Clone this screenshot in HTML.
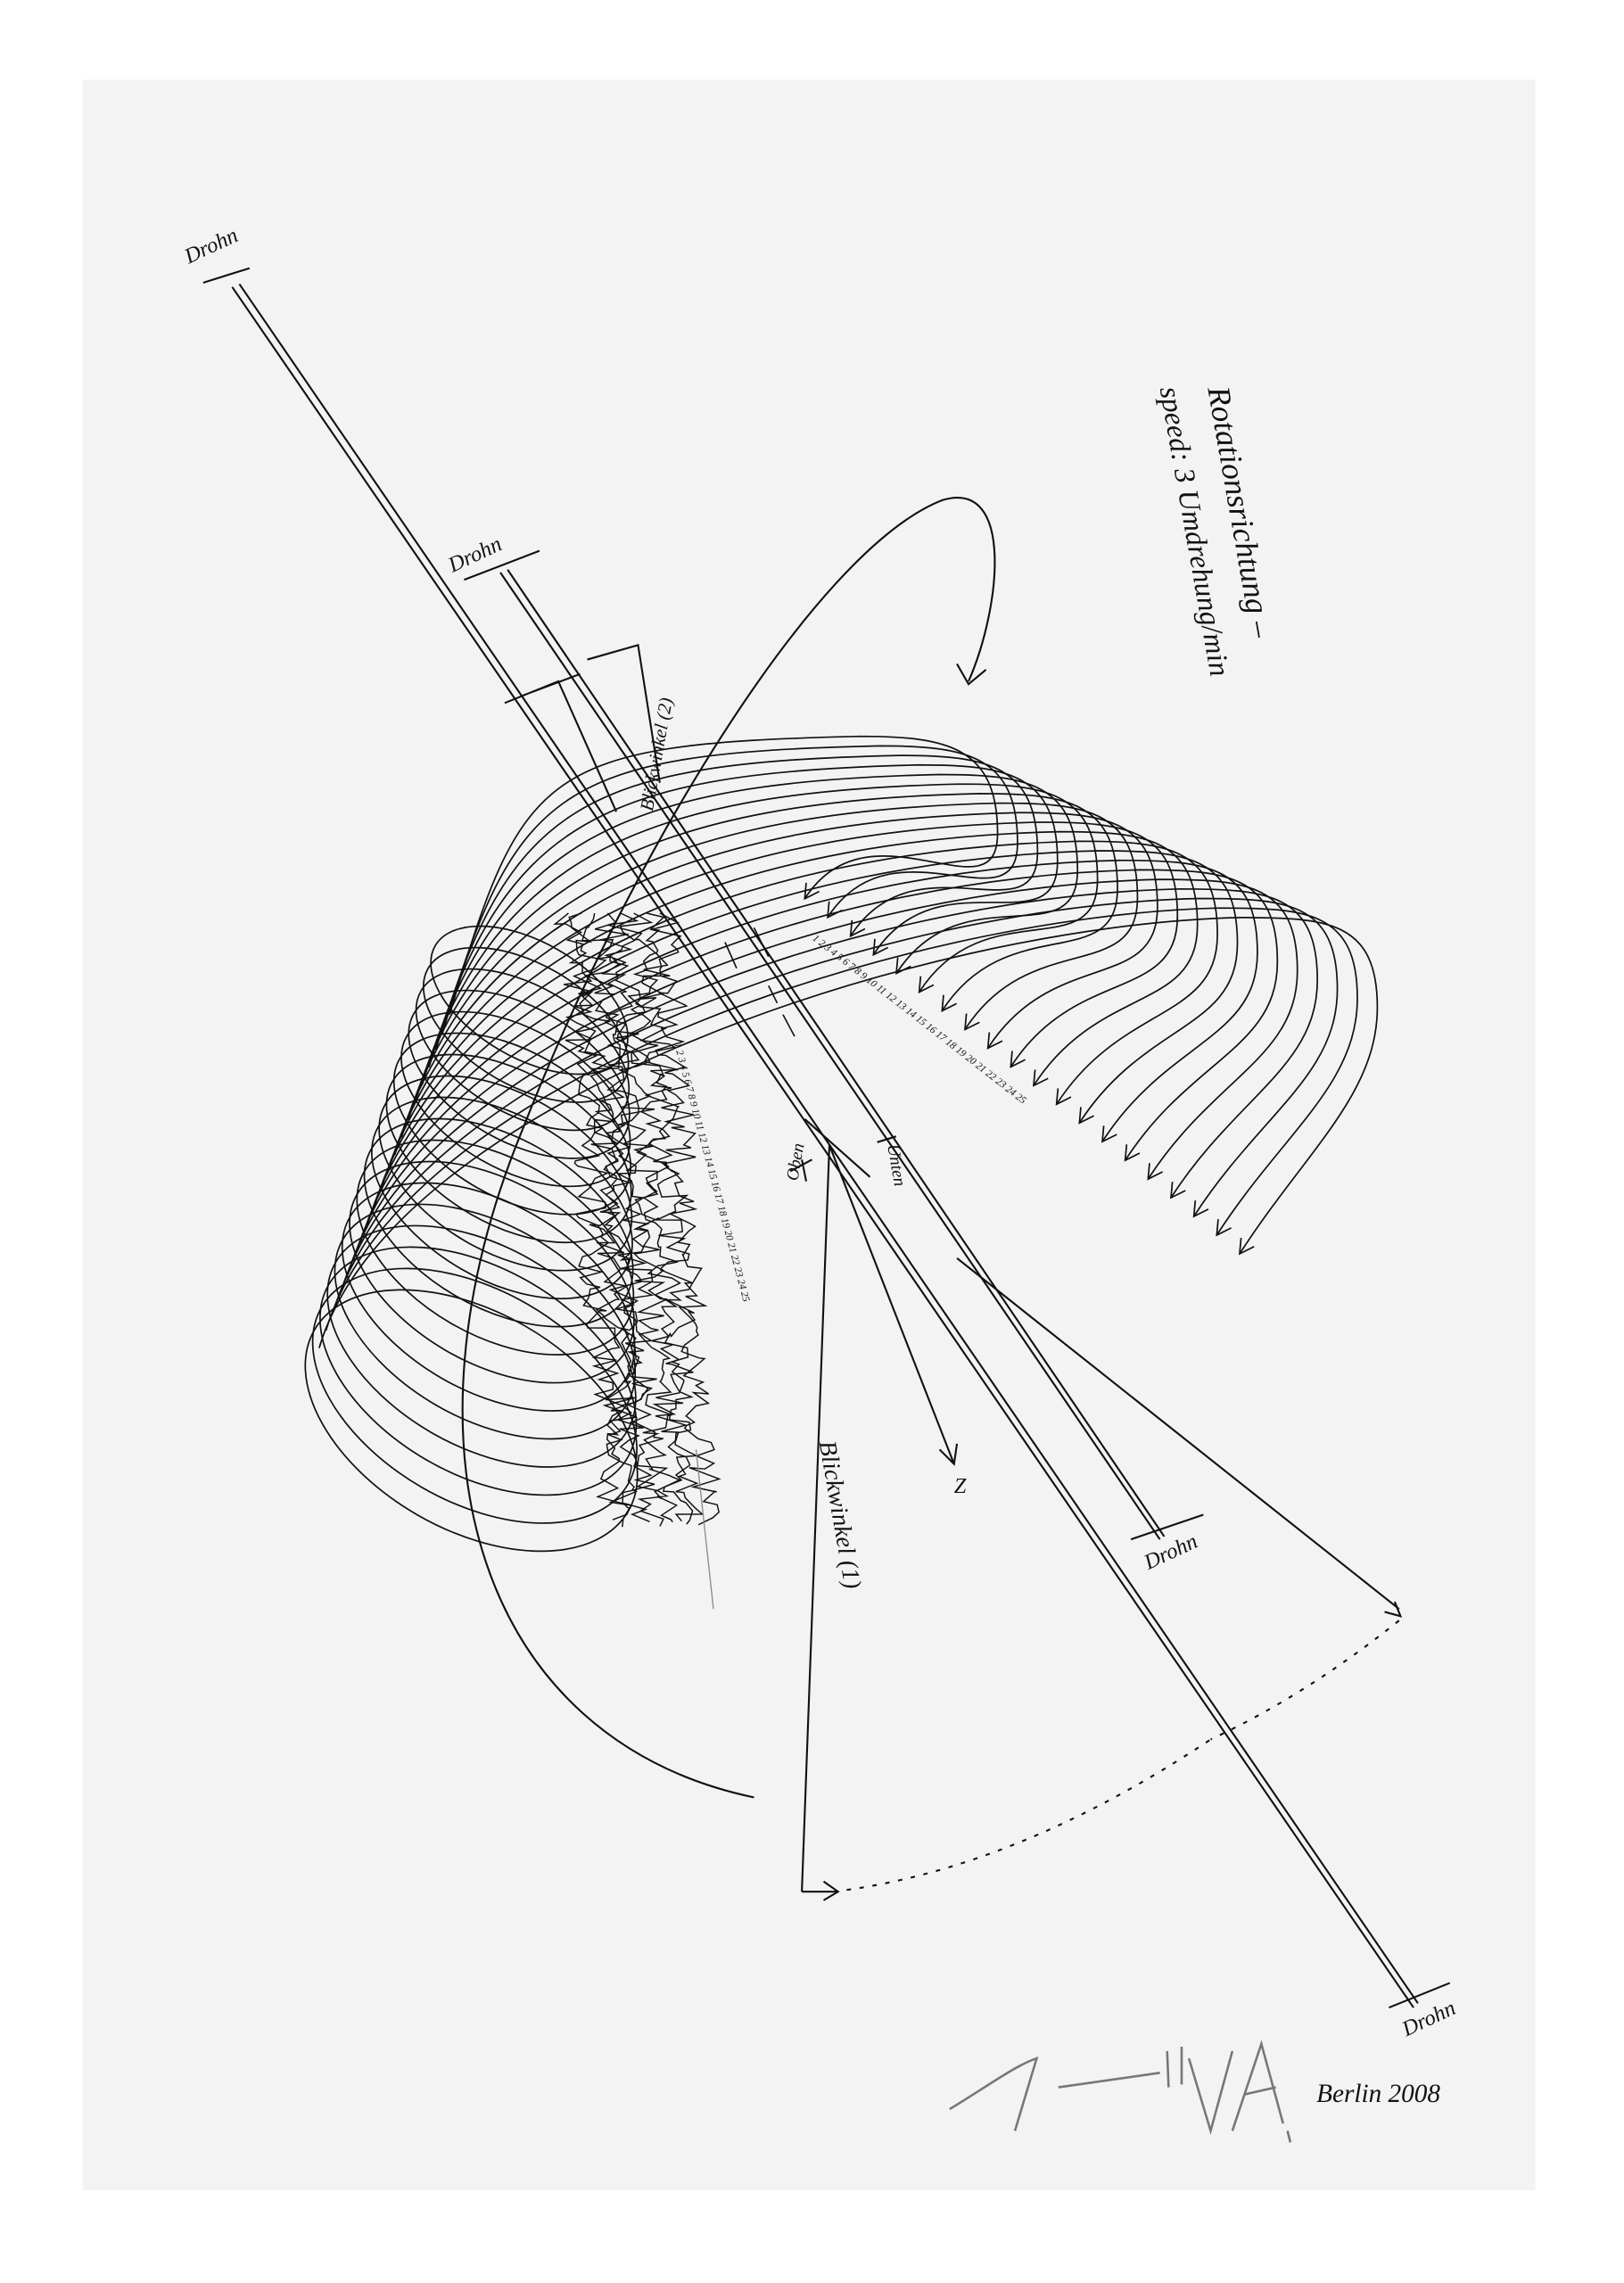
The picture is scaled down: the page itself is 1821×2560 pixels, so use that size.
<!DOCTYPE html>
<html><head><meta charset="utf-8"><style>
html,body{margin:0;padding:0;background:#fff}
svg{display:block}
text{font-family:"Liberation Serif",serif;font-style:italic;fill:#111}
</style></head><body>
<svg id="s" width="1821" height="2560" viewBox="0 0 1120 1575" xmlns="http://www.w3.org/2000/svg">
<rect x="0" y="0" width="1120" height="1575" fill="#fff"/>
<rect x="57" y="55" width="1002" height="1456" fill="#f3f3f3"/>
<g stroke="#111" fill="none" stroke-width="1.3">
<line x1="160" y1="198" x2="975" y2="1385"/>
<line x1="165" y1="196" x2="978" y2="1382"/>
<line x1="345" y1="395" x2="800" y2="1062"/>
<line x1="350" y1="393" x2="803" y2="1060"/>
<path d="M140 195 L172 185 M320 400 L372 380 M780 1062 L830 1045 M958 1385 L1000 1368"/>
<path d="M348 485 L385 470 L425 560 M360 480 L400 465"/>
<path d="M405 455 L440 445 L455 540"/>
<g id="loops" stroke-width="1.05"></g>
<path d="M520 1240 C330 1200, 270 1000, 360 780 C430 600, 560 380, 650 345 C700 330, 690 420, 668 470"/>
<path d="M660 458 L668 472 L680 462"/>
<g id="hatch" stroke-width="0.9"></g>
<line x1="480" y1="1000" x2="492" y2="1110" stroke="#888" stroke-width="0.8"/>
<line x1="572" y1="790" x2="553" y2="1305"/>
<line x1="553" y1="1305" x2="575" y2="1305"/>
<path d="M575 1305 Q700 1290 835 1200" stroke-dasharray="3 6"/>
<line x1="660" y1="868" x2="965" y2="1110"/>
<path d="M965 1118 Q900 1170 835 1200" stroke-dasharray="3 6"/>
<path d="M955 1112 L966 1115 L962 1105 M568 1298 L578 1305 L568 1311"/>
<line x1="572" y1="790" x2="658" y2="1010"/>
<path d="M648 1000 L658 1010 L660 996"/>
<line x1="555" y1="772" x2="600" y2="812"/>
<path d="M545 808 L560 800 M553 800 L556 815 M605 788 L618 784"/>
<path d="M520 640 L530 660 M540 700 L548 715 M500 650 L508 668 M530 680 L536 692" stroke-width="1"/>
</g>
<g font-size="15">
<text x="130" y="182" transform="rotate(-25 130 182)">Drohn</text>
<text x="312" y="395" transform="rotate(-25 312 395)">Drohn</text>
<text x="792" y="1083" transform="rotate(-25 792 1083)">Drohn</text>
<text x="970" y="1405" transform="rotate(-25 970 1405)">Drohn</text>
<text x="450" y="560" transform="rotate(-80 450 560)" font-size="13">Blickwinkel (2)</text>
<text x="565" y="995" transform="rotate(80 565 995)" font-size="17">Blickwinkel (1)</text>
<text x="612" y="790" transform="rotate(80 612 790)" font-size="12">Unten</text>
<text x="550" y="815" transform="rotate(-80 550 815)" font-size="12">Oben</text>
<text x="658" y="1030" font-size="15">Z</text>
<text x="833" y="268" transform="rotate(80 833 268)" font-size="22">Rotationsrichtung –</text>
<text x="800" y="268" transform="rotate(80 800 268)" font-size="20">speed: 3 Umdrehung/min</text>
</g>
<g font-size="7" fill="#222">
<text x="465" y="720" transform="rotate(75 465 720)">1 2 3 4 5 6 7 8 9 10 11 12 13 14 15 16 17 18 19 20 21 22 23 24 25</text>
<text x="560" y="648" transform="rotate(38 560 648)">1 2 3 4 5 6 7 8 9 10 11 12 13 14 15 16 17 18 19 20 21 22 23 24 25</text>
</g>
<g fill="none" stroke="#777" stroke-width="1.6">
<path d="M655 1455 C680 1440, 700 1425, 715 1420 L700 1470 M730 1440 L800 1430 M805 1415 L806 1440 M815 1412 L815 1438 M820 1420 L835 1470 L850 1415 M850 1470 L870 1410 L885 1465 M858 1445 L880 1440 M888 1470 L890 1478"/>
</g>
<text x="908" y="1450" font-size="18" fill="#666">Berlin 2008</text>
</svg>
<script>
(function(){
var NS="http://www.w3.org/2000/svg";
var L=document.getElementById("loops"),H=document.getElementById("hatch");
function p(d,g){var e=document.createElementNS(NS,"path");e.setAttribute("d",d);g.appendChild(e);}
var n=20;
for(var i=0;i<n;i++){
 var t=i/(n-1);
 var T=[555+300*t,620+245*t];
 var R=[688+262*t,575+120*t];
 var top=508+125*t;
 var P=[R[0]-95,top];
 var S=[310-90*t,700+230*t];
 p("M"+S+" C"+[S[0]+50,S[1]-170]+" "+[P[0]-220,top+5]+" "+P+" C"+[P[0]+60,top]+" "+[R[0],R[1]-60]+" "+R+" C"+[R[0],R[1]+60]+" "+[T[0]+45,T[1]-70]+" "+T,L);
 p("M"+[T[0]+1,T[1]-11]+" L"+T+" L"+[T[0]+10,T[1]-5],L);
}
for(var j=0;j<18;j++){
 var u=j/17;
 var cx=365-40*u, cy=690+290*u, rx=75+50*u, ry=40+35*u;
 var e=document.createElementNS(NS,"ellipse");
 e.setAttribute("cx",cx);e.setAttribute("cy",cy);e.setAttribute("rx",rx);e.setAttribute("ry",ry);
 e.setAttribute("transform","rotate(30 "+cx+" "+cy+")");
 L.appendChild(e);
}
var seed=7;function r(){seed=(seed*16807)%2147483647;return seed/2147483647;}
for(var k=0;k<8;k++){
 var d="M"+(392+k*9)+" 630";
 for(var y=635;y<1055;y+=4){
  var x0=395+k*9+(y-640)*0.07;
  d+=" L"+(x0+(r()-0.5)*24).toFixed(1)+" "+(y+(r()-0.5)*6).toFixed(1);
 }
 p(d,H);
}
})();
</script>
</body></html>
